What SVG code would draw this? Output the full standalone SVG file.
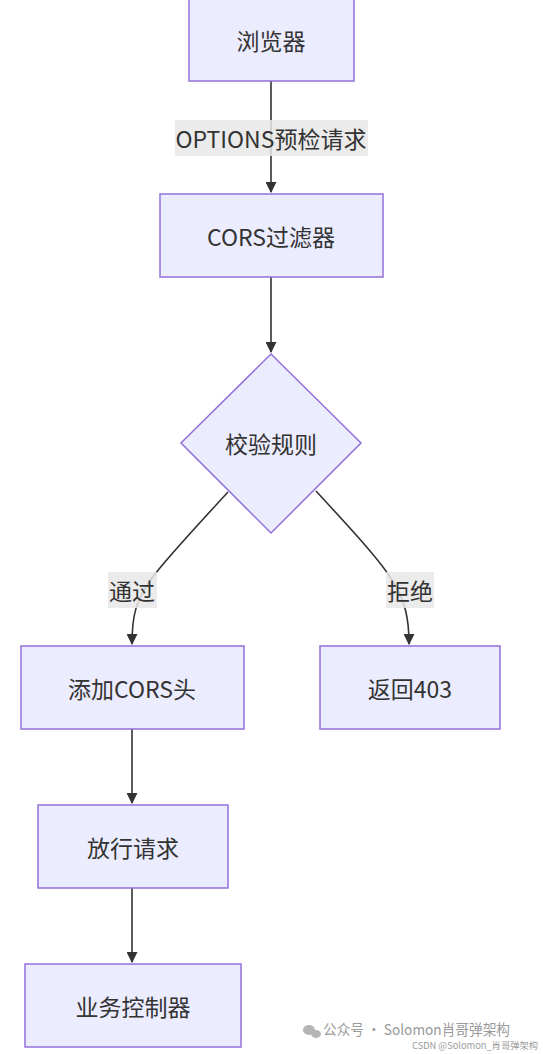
<svg xmlns="http://www.w3.org/2000/svg" width="543" height="1054" viewBox="0 0 543 1054">
<style>
.node rect,.node polygon{fill:#ECECFF;stroke:#9370DB;stroke-width:1.5}
.lbl{font-family:"Noto Sans CJK SC","Open Sans",sans-serif;font-size:23px;fill:#333;text-anchor:middle;dominant-baseline:central}
.edge{fill:none;stroke:#333;stroke-width:1.6}
.ebg{fill:#E8E8E8;opacity:0.85}
.wm{font-family:"Noto Sans CJK SC","Open Sans",sans-serif;fill:#9a9a9a}
</style>
<defs>
<marker id="arr" viewBox="0 0 10 10" refX="9" refY="5" markerWidth="11" markerHeight="11" markerUnits="userSpaceOnUse" orient="auto">
<path d="M0,0 L10,5 L0,10 z" fill="#333"/>
</marker>
</defs>
<rect width="543" height="1054" fill="#fff"/>
<g id="edges">
<path class="edge" d="M271,81 L271,192" marker-end="url(#arr)"/>
<path class="edge" d="M271,277 L271,352" marker-end="url(#arr)"/>
<path class="edge" d="M228,492 C195,528 165,560 152,578 C136,600 132,615 132,644" marker-end="url(#arr)"/>
<path class="edge" d="M316,491 C350,528 380,560 392,580 C406,602 409,620 409,644" marker-end="url(#arr)"/>
<path class="edge" d="M132,729 L132,803" marker-end="url(#arr)"/>
<path class="edge" d="M132,888 L132,962" marker-end="url(#arr)"/>
<g id="edge-labels">
<rect class="ebg" x="175" y="120" width="193" height="36"/>
<text class="lbl" x="271" y="138">OPTIONS预检请求</text>
<rect class="ebg" x="108" y="572" width="49" height="36"/>
<text class="lbl" x="132" y="590">通过</text>
<rect class="ebg" x="386" y="572" width="48" height="36"/>
<text class="lbl" x="410" y="590">拒绝</text>
</g>
</g>
<g id="browser" class="node"><rect x="189" y="-2" width="165" height="83"/><text class="lbl" x="271" y="40">浏览器</text></g>
<g id="cors-filter" class="node"><rect x="160" y="194" width="223" height="83"/><text class="lbl" x="271" y="236">CORS过滤器</text></g>
<g id="check" class="node"><polygon points="271,354 361,443 271,533 181,443"/><text class="lbl" x="271" y="443">校验规则</text></g>
<g id="add-header" class="node"><rect x="21" y="646" width="223" height="83"/><text class="lbl" x="132" y="688">添加CORS头</text></g>
<g id="reject" class="node"><rect x="320" y="646" width="180" height="83"/><text class="lbl" x="410" y="688">返回403</text></g>
<g id="pass" class="node"><rect x="38" y="805" width="190" height="83"/><text class="lbl" x="133" y="847">放行请求</text></g>
<g id="controller" class="node"><rect x="25" y="964" width="216" height="83"/><text class="lbl" x="133" y="1006">业务控制器</text></g>
<g id="watermark">
<ellipse cx="309" cy="1030" rx="6" ry="5" fill="#b5b5b5"/>
<ellipse cx="316" cy="1034" rx="5" ry="4" fill="#b5b5b5"/>
<text class="wm" x="323" y="1035" font-size="14.5" textLength="187" lengthAdjust="spacingAndGlyphs">公众号 · Solomon肖哥弹架构</text>
<text class="wm" x="412" y="1049" font-size="9.5" fill="#b0b0b0" textLength="126" lengthAdjust="spacingAndGlyphs">CSDN @Solomon_肖哥弹架构</text>
</g>
</svg>
